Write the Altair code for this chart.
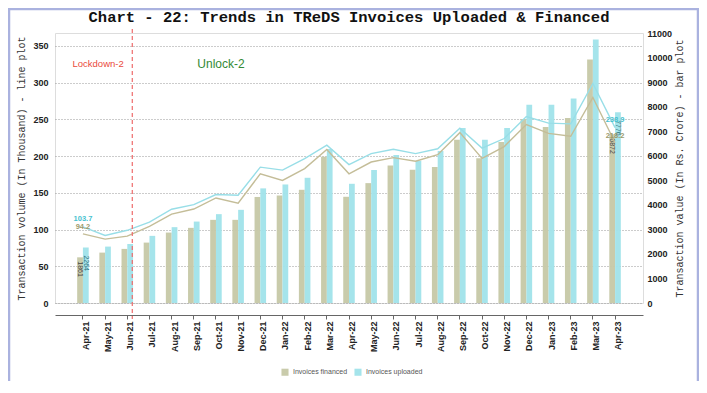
import altair as alt
import pandas as pd

months = ["Apr-21", "May-21", "Jun-21", "Jul-21", "Aug-21", "Sep-21", "Oct-21", "Nov-21",
          "Dec-21", "Jan-22", "Feb-22", "Mar-22", "Apr-22", "May-22", "Jun-22", "Jul-22",
          "Aug-22", "Sep-22", "Oct-22", "Nov-22", "Dec-22", "Jan-23", "Feb-23", "Mar-23", "Apr-23"]
series = ["Invoices financed", "Invoices uploaded"]
title_text = "Chart - 22: Trends in TReDS Invoices Uploaded & Financed"

# bar plot: transaction value (Rs. Crore)
fin_value = [1861, 2053, 2204, 2461, 2869, 3061, 3388, 3388, 4320, 4380, 4612, 5959, 4327,
             4884, 5605, 5429, 5540, 6650, 5900, 6560, 7500, 7170, 7539, 9918, 6872]
upl_value = [2264, 2298, 2408, 2735, 3090, 3318, 3620, 3796, 4670, 4829, 5102, 6272, 4857,
             5415, 6027, 5796, 6190, 7130, 6650, 7130, 8080, 8080, 8327, 10735, 7776]
# line plot: transaction volume (thousand)
fin_volume = [94.2, 87, 91, 104.5, 121, 128, 143, 136, 176, 167, 183, 209, 176, 192, 198,
              193, 202, 232, 197, 213, 243, 231, 227, 280, 218.2]
upl_volume = [103.7, 92, 99, 110, 127.7, 134, 147.7, 146.7, 185, 181, 196.7, 215, 188.5,
              203.5, 209.4, 203.5, 210, 238, 211, 224, 254, 245, 244, 299, 238.9]

bar_colors = ["#c6c8a6", "#a0e3ea"]
line_colors = ["#c4bd98", "#98dee7"]

bar_df = pd.DataFrame({
    "month": months * 2,
    "series": [series[0]] * len(months) + [series[1]] * len(months),
    "value": fin_value + upl_value,
})
line_df = pd.DataFrame({
    "month": months * 2,
    "series": [series[0]] * len(months) + [series[1]] * len(months),
    "volume": fin_volume + upl_volume,
})
ends = [months[0], months[-1]]
bar_lab = bar_df[bar_df["month"].isin(ends)].copy()
bar_lab["label"] = bar_lab["value"].astype(int).astype(str)
line_lab = line_df[line_df["month"].isin(ends)].copy()
line_lab["label"] = line_lab["volume"].map(lambda v: f"{v:.1f}")

xdef = alt.X("month:N", sort=months, title=None,
             scale=alt.Scale(paddingInner=0.48, paddingOuter=1),
             axis=alt.Axis(labelAngle=-90, labelFont="Liberation Sans", labelFontWeight="bold",
                           labelFontSize=9, labelColor="#222", offset=12, domainColor="#666",
                           tickColor="#666", tickSize=4, labelPadding=2, labelOffset=3))
xoff = alt.XOffset("series:N", sort=series, scale=alt.Scale(paddingInner=0))

yright = alt.Y("value:Q", title="Transaction value (In Rs. Crore) - bar plot",
               scale=alt.Scale(domain=[0, 11000], nice=False),
               axis=alt.Axis(orient="right", values=list(range(0, 11001, 1000)), format="d",
                             grid=False, ticks=False, domain=False, labelPadding=4,
                             labelFont="Liberation Sans", labelFontWeight="bold", labelFontSize=9,
                             labelColor="#222", titleFont="Liberation Mono", titleFontSize=10,
                             titleFontWeight="normal", titleColor="#333", titleAngle=270,
                             titlePadding=12))
yleft = alt.Y("volume:Q", title="Transaction volume (In Thousand) - line plot",
              scale=alt.Scale(domain=[0, 367.7], nice=False),
              axis=alt.Axis(orient="left", values=list(range(0, 351, 50)), grid=True,
                            gridDash=[1, 2], gridColor="#999", ticks=False, domain=False,
                            labelPadding=7, labelFont="Liberation Sans", labelFontWeight="bold",
                            labelFontSize=9, labelColor="#222", titleFont="Liberation Mono",
                            titleFontSize=10, titleFontWeight="normal", titleColor="#333",
                            titlePadding=6))

bars = alt.Chart(bar_df).mark_bar(opacity=0.95).encode(
    x=xdef, xOffset=xoff, y=yright,
    color=alt.Color("series:N", sort=series, scale=alt.Scale(domain=series, range=bar_colors),
                    legend=alt.Legend(title=None, orient="none", legendX=226, legendY=335,
                                      direction="horizontal", symbolType="square",
                                      symbolSize=50, symbolStrokeWidth=0, labelFontSize=7,
                                      labelColor="#555", labelFont="Liberation Sans",
                                      columnPadding=6)))
bt_f = alt.Chart(bar_lab[bar_lab["series"] == series[0]]).mark_text(
    angle=90, align="left", baseline="middle", dx=4, fontSize=7, color="#444",
    font="Liberation Sans").encode(x=xdef, xOffset=xoff, y=yright, text="label:N")
bt_u = alt.Chart(bar_lab[bar_lab["series"] == series[1]]).mark_text(
    angle=90, align="left", baseline="middle", dx=8, fontSize=7, color="#2b6f7a",
    font="Liberation Sans").encode(x=xdef, xOffset=xoff, y=yright, text="label:N")
bar_layer = alt.layer(bars, bt_f, bt_u)

lines = alt.Chart(line_df).mark_line(strokeWidth=1.4).encode(
    x=xdef, y=yleft,
    stroke=alt.Stroke("series:N", sort=series,
                      scale=alt.Scale(domain=series, range=line_colors), legend=None))
lt_f = alt.Chart(line_lab[line_lab["series"] == series[0]]).mark_text(
    dy=-7, fontSize=7.5, fontWeight="bold", color="#9c9a6c", font="Liberation Sans").encode(
    x=xdef, y=yleft, text="label:N")
lt_u = alt.Chart(line_lab[line_lab["series"] == series[1]]).mark_text(
    dy=-8, fontSize=7.5, fontWeight="bold", color="#48c2cf", font="Liberation Sans").encode(
    x=xdef, y=yleft, text="label:N")

ann_df = pd.DataFrame({"month": ["Jun-21"]})
vrule = alt.Chart(ann_df).mark_rule(color="#ee6b6b", strokeDash=[4, 3], strokeWidth=1.2,
                                    xOffset=5).encode(
    x=xdef, y=alt.value(-4), y2=alt.value(286))
lock_df = pd.DataFrame({"month": ["May-21"], "volume": [325], "label": ["Lockdown-2"]})
unlock_df = pd.DataFrame({"month": ["Oct-21"], "volume": [325], "label": ["Unlock-2"]})
lock = alt.Chart(lock_df).mark_text(color="#ea4a3c", fontSize=9.5, dx=-7,
                                    font="Liberation Sans").encode(
    x=xdef, y=yleft, text="label:N")
unlock = alt.Chart(unlock_df).mark_text(color="#338a35", fontSize=12, dx=5,
                                        font="Liberation Sans").encode(
    x=xdef, y=yleft, text="label:N")
line_layer = alt.layer(lines, lt_f, lt_u, vrule, lock, unlock)

deco_df = pd.DataFrame({"t": [title_text]})
frame = alt.Chart(deco_df).mark_rect(
    fill=None, stroke="#aab2df", strokeWidth=2.5).encode(
    x=alt.value(-46), x2=alt.value(643), y=alt.value(-24), y2=alt.value(351))
title = alt.Chart(deco_df).mark_text(
    font="Liberation Mono", fontSize=15.5, fontWeight="bold", color="#111",
    align="center", baseline="middle").encode(
    x=alt.value(294), y=alt.value(-16), text="t:N")

chart = alt.layer(bar_layer, line_layer, frame, title).resolve_scale(y="independent").properties(
    width=588, height=270,
    autosize=alt.AutoSizeParams(type="none"),
    padding={"left": 47, "top": 25, "right": 56, "bottom": 78},
).configure_view(stroke=None).configure(background="white")

chart.save("out.html", embed_options={"renderer": "svg", "actions": False})
